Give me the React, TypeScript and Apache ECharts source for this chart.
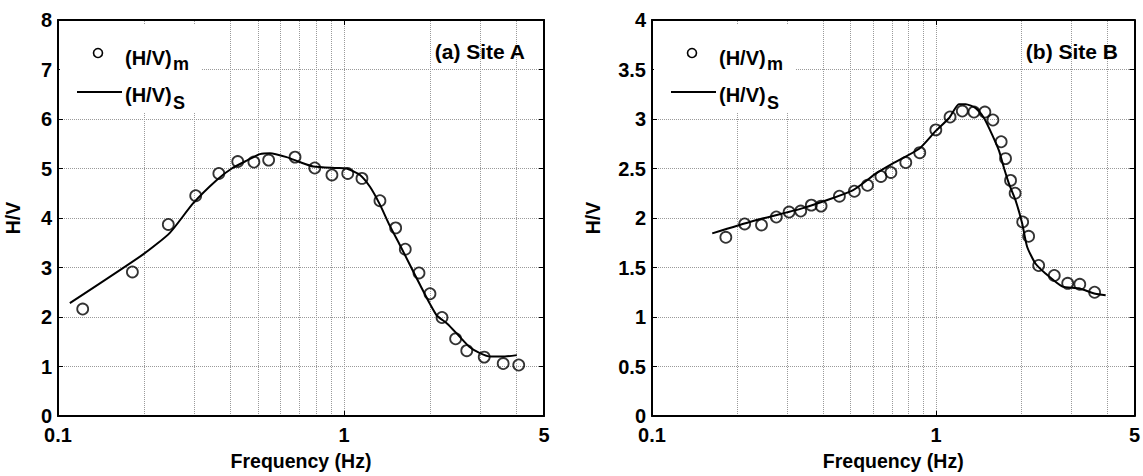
import React, { useEffect, useRef } from "react";
import * as echarts from "echarts";

// ---------- data ----------
const freqGridMinor = [0.2, 0.3, 0.4, 0.5, 0.6, 0.7, 0.8, 0.9, 2, 3, 4];

const freqA_m = [0.122, 0.182, 0.243, 0.303, 0.365, 0.425, 0.484, 0.545, 0.674, 0.79, 0.907, 1.03, 1.155, 1.335, 1.515, 1.637, 1.828, 1.997, 2.2, 2.455, 2.685, 3.09, 3.6, 4.08];
const hvA_m = [2.16, 2.91, 3.87, 4.45, 4.9, 5.14, 5.13, 5.17, 5.23, 5.01, 4.87, 4.9, 4.8, 4.35, 3.8, 3.37, 2.89, 2.47, 1.99, 1.56, 1.32, 1.19, 1.06, 1.03];

const freqA_s = [0.11, 0.199, 0.246, 0.297, 0.359, 0.405, 0.457, 0.508, 0.551, 0.63, 0.7, 0.781, 0.942, 1.02, 1.137, 1.232, 1.335, 1.446, 1.569, 1.7, 1.843, 1.998, 2.11, 2.3, 2.51, 2.74, 2.985, 3.25, 3.65, 4.02];
const hvA_s = [2.28, 3.27, 3.7, 4.3, 4.77, 5.0, 5.16, 5.29, 5.31, 5.23, 5.13, 5.04, 5.01, 5.0, 4.87, 4.63, 4.27, 3.84, 3.45, 3.05, 2.65, 2.26, 2.03, 1.86, 1.63, 1.4, 1.27, 1.2, 1.2, 1.23];

const freqB_m = [0.182, 0.212, 0.243, 0.274, 0.304, 0.334, 0.364, 0.394, 0.457, 0.516, 0.574, 0.64, 0.694, 0.783, 0.877, 0.999, 1.121, 1.238, 1.361, 1.487, 1.587, 1.697, 1.758, 1.831, 1.9, 2.02, 2.12, 2.3, 2.61, 2.91, 3.21, 3.62];
const hvB_m = [1.805, 1.94, 1.93, 2.01, 2.06, 2.07, 2.13, 2.12, 2.22, 2.27, 2.33, 2.42, 2.46, 2.56, 2.66, 2.89, 3.02, 3.08, 3.07, 3.07, 2.99, 2.77, 2.6, 2.38, 2.25, 1.96, 1.815, 1.52, 1.42, 1.34, 1.33, 1.25];

const freqB_s = [0.163, 0.227, 0.34, 0.509, 0.615, 0.703, 0.873, 0.9986, 1.113, 1.205, 1.273, 1.38, 1.476, 1.578, 1.667, 1.734, 1.806, 1.906, 2.01, 2.094, 2.24, 2.43, 2.78, 3.18, 3.64, 3.96];
const hvB_s = [1.845, 1.97, 2.1, 2.28, 2.45, 2.55, 2.7, 2.88, 3.01, 3.15, 3.15, 3.11, 3.01, 2.84, 2.68, 2.51, 2.35, 2.18, 1.95, 1.71, 1.54, 1.44, 1.31, 1.29, 1.235, 1.22];

const panelTitles = ["(a) Site A", "(b) Site B"];
const xName = "Frequency (Hz)";
const yName = "H/V";
const legendMain = "(H/V)";
const legendSubs = ["m", "S"];

// ---------- styling ----------
const FONT = "'Liberation Sans', Arial, Helvetica, sans-serif";
const FS = 20;
const GRID_COLOR = "#9a9a9a";

const zip = (xs: number[], ys: number[]) => xs.map((x, i) => [x, ys[i]]);

function buildOption() {
  const panels = [
    { left: 58, width: 486, yMax: 8, yInt: 1, nameGap: 35, fm: freqA_m, hm: hvA_m, fs: freqA_s, hs: hvA_s },
    { left: 652, width: 484, yMax: 4, yInt: 0.5, nameGap: 49, fm: freqB_m, hm: hvB_m, fs: freqB_s, hs: hvB_s },
  ];
  const top = 20;
  const height = 404;

  const grid: any[] = [];
  const xAxis: any[] = [];
  const yAxis: any[] = [];
  const series: any[] = [];
  const graphic: any[] = [];

  const labelStyle = { fontFamily: FONT, fontWeight: "bold", fontSize: FS, color: "#000", lineHeight: 16 };
  const nameStyle = { fontFamily: FONT, fontWeight: "bold", fontSize: 19.5, color: "#000" };

  panels.forEach((p, i) => {
    grid.push({ left: p.left, top, width: p.width, height, containLabel: false });
    xAxis.push({
      type: "log",
      logBase: 10,
      gridIndex: i,
      position: "bottom",
      min: 0.1,
      max: 5,
      name: xName,
      nameLocation: "middle",
      nameGap: 35,
      nameTextStyle: nameStyle,
      axisLine: { show: true, onZero: false, lineStyle: { color: "#000", width: 2 } },
      axisTick: { show: true, inside: true, length: 5, lineStyle: { color: "#000", width: 1 } },
      axisLabel: {
        ...labelStyle,
        margin: 11,
        formatter: (v: number) => String(Number(Number(v).toPrecision(3))),
      },
      splitLine: { show: true, lineStyle: { color: GRID_COLOR, type: "dotted", width: 1 } },
      minorTick: { show: false },
    });
    xAxis.push({
      type: "log",
      logBase: 10,
      gridIndex: i,
      position: "top",
      min: 0.1,
      max: 5,
      axisLine: { show: true, onZero: false, lineStyle: { color: "#000", width: 2 } },
      axisTick: { show: true, inside: true, length: 5, lineStyle: { color: "#000", width: 1 } },
      axisLabel: { show: false },
      splitLine: { show: false },
    });
    yAxis.push({
      type: "value",
      gridIndex: i,
      position: "left",
      min: 0,
      max: p.yMax,
      interval: p.yInt,
      name: yName,
      nameLocation: "middle",
      nameGap: p.nameGap,
      nameRotate: 90,
      nameTextStyle: nameStyle,
      axisLine: { show: true, onZero: false, lineStyle: { color: "#000", width: 2 } },
      axisTick: { show: true, inside: true, length: 5, lineStyle: { color: "#000", width: 1 } },
      axisLabel: { ...labelStyle, margin: 6 },
      splitLine: { show: true, lineStyle: { color: GRID_COLOR, type: "dotted", width: 1 } },
    });
    yAxis.push({
      type: "value",
      gridIndex: i,
      position: "right",
      min: 0,
      max: p.yMax,
      interval: p.yInt,
      axisLine: { show: true, onZero: false, lineStyle: { color: "#000", width: 2 } },
      axisTick: { show: true, inside: true, length: 5, lineStyle: { color: "#000", width: 1 } },
      axisLabel: { show: false },
      splitLine: { show: false },
    });

    const xi = i * 2;
    const yi = i * 2;

    series.push({
      type: "line",
      xAxisIndex: xi,
      yAxisIndex: yi,
      data: zip(p.fs, p.hs),
      showSymbol: false,
      smooth: 0.2,
      lineStyle: { color: "#000", width: 2 },
      z: 3,
      markLine: {
        silent: true,
        symbol: "none",
        label: { show: false },
        lineStyle: { color: GRID_COLOR, type: "dotted", width: 1 },
        data: freqGridMinor.map((f) => ({ xAxis: f })),
        z: 0,
        animation: false,
      },
    });
    series.push({
      type: "scatter",
      xAxisIndex: xi,
      yAxisIndex: yi,
      data: zip(p.fm, p.hm),
      symbol: "circle",
      symbolSize: 11,
      itemStyle: { color: "transparent", borderColor: "#000", borderWidth: 1.8 },
      z: 4,
    });

    const lx = p.left;
    const txt = (text: string, x: number, y: number, size: number, align = "left") => ({
      type: "text",
      x,
      y,
      style: {
        text,
        font: `bold ${size}px ${FONT}`,
        fill: "#000",
        textAlign: align,
        textVerticalAlign: "middle",
        align,
        verticalAlign: "middle",
      },
      z: 11,
    });
    graphic.push({
      type: "rect",
      shape: { x: lx + 2, y: top + 4, width: 141, height: 89 },
      style: { fill: "#fff" },
      z: 10,
    });
    graphic.push({
      type: "circle",
      shape: { cx: lx + 40, cy: 53, r: 4.5 },
      style: { fill: "transparent", stroke: "#000", lineWidth: 1.6 },
      z: 11,
    });
    graphic.push(txt(legendMain, lx + 67, 58, 20));
    graphic.push(txt(legendSubs[0], lx + 115, 64, 18));
    graphic.push({
      type: "line",
      shape: { x1: lx + 19, y1: 92, x2: lx + 64, y2: 92 },
      style: { stroke: "#000", lineWidth: 2 },
      z: 11,
    });
    graphic.push(txt(legendMain, lx + 67, 95, 20));
    graphic.push(txt(legendSubs[1], lx + 115, 103, 18));
    graphic.push(txt(panelTitles[i], p.left + p.width - (i === 0 ? 19 : 18), 51, 21, "right"));
  });

  return {
    animation: false,
    backgroundColor: "#fff",
    grid,
    xAxis,
    yAxis,
    series,
    graphic,
  };
}

export default function App() {
  const ref = useRef<HTMLDivElement>(null);
  useEffect(() => {
    if (!ref.current) return;
    const chart = echarts.init(ref.current, null, { renderer: "svg" });
    chart.setOption(buildOption() as any);
    return () => chart.dispose();
  }, []);
  return (
    <div
      ref={ref}
      style={{ position: "fixed", left: 0, top: 0, width: 1143, height: 476, background: "#fff" }}
    />
  );
}
